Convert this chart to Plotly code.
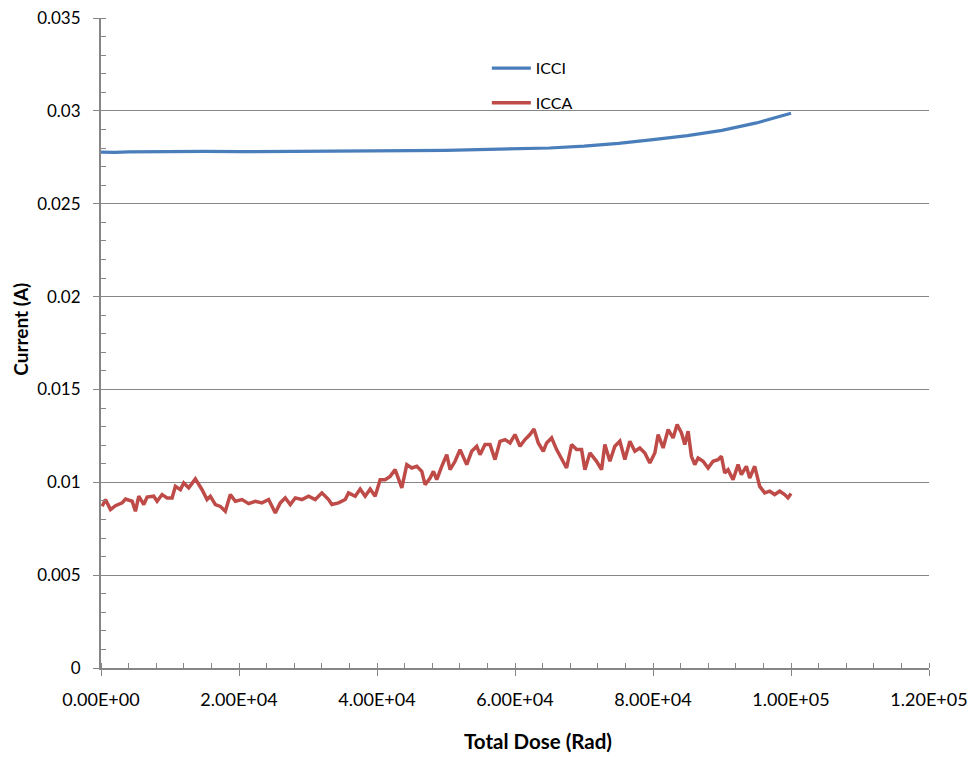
import plotly.graph_objects as go

# ---------------- data ----------------
icci_dose = [0, 2000, 4000, 6000, 10000, 15000, 20000, 25000, 30000, 35000, 40000,
             45000, 50000, 55000, 60000, 65000, 70000, 75000, 80000, 85000, 90000,
             95000, 100000]
icci_current = [0.02778, 0.02776, 0.02779, 0.02780, 0.02781, 0.02782, 0.02780, 0.02782,
                0.02783, 0.02783, 0.02785, 0.02786, 0.02787, 0.02790, 0.02794, 0.02800,
                0.02810, 0.02825, 0.02845, 0.02867, 0.02895, 0.02935, 0.02987]

icca_dose = [169, 651, 1375, 2099, 3064, 3546, 4511, 4994, 5476, 6200, 6683, 7647, 8130,
             8854, 9578, 10301, 10784, 11508, 11990, 12714, 13679, 14644, 15368, 15850,
             16574, 17298, 18021, 18745, 19469, 20434, 21399, 22364, 23329, 24294, 25259,
             25983, 26706, 27430, 28154, 29119, 30084, 31049, 32014, 32979, 33462, 34427,
             35391, 35874, 36839, 37563, 38286, 39010, 39734, 40458,
             41181, 41905, 42629, 43111, 43594, 44318, 45042, 45766, 46489, 46971, 47695,
             48177, 48660, 49384, 50108, 50590, 51314, 52038, 52520, 53003, 53727, 54450,
             54933, 55656, 56380, 57104, 57828, 58551, 59275, 59999, 60723, 61446, 62170,
             62749, 63376, 64100, 64583, 65306, 66030, 66754, 67478, 68201, 68925, 69649,
             70131, 70855, 71820, 72544, 73026, 73750, 74474, 75198, 75921, 76645, 77369,
             78093, 78816, 79540, 80264, 80746, 81470, 82194, 82917, 83496, 84124, 84606,
             85089, 85571, 86054, 86536, 87260, 87984, 88707, 89431, 89914, 90396, 90879,
             91602, 92326, 92809, 93533, 94015, 94739, 95463, 96186, 96910, 97634, 98358,
             99081, 99564, 100000]
icca_current = [0.00871, 0.00907, 0.00853, 0.00874, 0.00889, 0.00910, 0.00898, 0.00844,
                0.00925, 0.00880, 0.00920, 0.00925, 0.00898, 0.00934, 0.00916, 0.00916,
                0.00978, 0.00960, 0.00996, 0.00970, 0.01018, 0.00960, 0.00907, 0.00925,
                0.00880, 0.00870, 0.00844, 0.00934, 0.00898, 0.00907, 0.00885, 0.00898,
                0.00889, 0.00907, 0.00835, 0.00889, 0.00916, 0.00880, 0.00916, 0.00907,
                0.00925, 0.00907, 0.00943, 0.00907, 0.00880, 0.00889, 0.00907, 0.00943,
                0.00925, 0.00964, 0.00925, 0.00964, 0.00925, 0.01014,
                0.01014, 0.01032, 0.01068, 0.01023, 0.00970, 0.01095, 0.01077, 0.01086,
                0.01059, 0.00987, 0.01023, 0.01059, 0.01014, 0.01086, 0.01149, 0.01068,
                0.01113, 0.01176, 0.01131, 0.01095, 0.01167, 0.01194, 0.01149, 0.01203,
                0.01203, 0.01122, 0.01221, 0.01230, 0.01212, 0.01257, 0.01194, 0.01230,
                0.01257, 0.01287, 0.01212, 0.01167, 0.01212, 0.01239, 0.01176, 0.01131,
                0.01077, 0.01203, 0.01176, 0.01176, 0.01068, 0.01158, 0.01113, 0.01068,
                0.01203, 0.01113, 0.01194, 0.01221, 0.01122, 0.01221, 0.01167,
                0.01185, 0.01158, 0.01104, 0.01158, 0.01257, 0.01185, 0.01284, 0.01239,
                0.01311, 0.01266, 0.01203, 0.01275, 0.01140, 0.01095, 0.01131, 0.01113,
                0.01077, 0.01113, 0.01122, 0.01140, 0.01050, 0.01068, 0.01014, 0.01095,
                0.01041, 0.01086, 0.01023, 0.01086, 0.00978, 0.00943, 0.00952, 0.00934,
                0.00952, 0.00934, 0.00916, 0.00939]

x_tickvals = [0, 20000, 40000, 60000, 80000, 100000, 120000]
x_ticktext = ["0.00E+00", "2.00E+04", "4.00E+04", "6.00E+04", "8.00E+04", "1.00E+05", "1.20E+05"]
y_tickvals = [0, 0.005, 0.01, 0.015, 0.02, 0.025, 0.03, 0.035]
y_ticktext = ["0", "0.005", "0.01", "0.015", "0.02", "0.025", "0.03", "0.035"]

x_title = "Total Dose (Rad)"
y_title = "Current (A)"

# ---------------- figure ----------------
FONT = "Lato"
AX = "#868686"

fig = go.Figure()
fig.add_trace(go.Scatter(x=icci_dose, y=icci_current, mode="lines", name="ICCI",
                         line=dict(color="#4A7EBB", width=3.2), legend="legend",
                         showlegend=True))
fig.add_trace(go.Scatter(x=icca_dose, y=icca_current, mode="lines", name="ICCA",
                         line=dict(color="#BE4B48", width=3.5), legend="legend2",
                         showlegend=True))

leg_common = dict(xref="paper", yref="paper", xanchor="left", yanchor="middle",
                  bgcolor="rgba(0,0,0,0)", borderwidth=0, itemwidth=39,
                  font=dict(family=FONT, size=16, color="black"))
fig.update_layout(
    width=973, height=757,
    margin=dict(l=101, r=44, t=18, b=89, autoexpand=False),
    paper_bgcolor="white", plot_bgcolor="white",
    showlegend=True,
    font=dict(family=FONT, size=15, color="black"),
    legend=dict(x=0.466, y=0.9226, **leg_common),
    legend2=dict(x=0.466, y=0.8696, **leg_common),
    xaxis=dict(range=[0, 120000], tickvals=x_tickvals, ticktext=x_ticktext,
               automargin=False,
               showgrid=False, zeroline=False, showline=True, linecolor=AX, linewidth=2,
               ticks="outside", ticklen=6, tickcolor=AX, tickwidth=1,
               ticklabelstandoff=8,
               minor=dict(dtick=4000, ticks="inside", ticklen=5, tickcolor=AX, showgrid=False),
               tickfont=dict(family=FONT, size=18, color="black")),
    yaxis=dict(range=[0, 0.035], tickvals=y_tickvals, ticktext=y_ticktext,
               automargin=False,
               showgrid=True, gridcolor=AX, gridwidth=1, zeroline=False,
               showline=True, linecolor=AX, linewidth=2,
               ticks="outside", ticklen=6, tickcolor=AX, tickwidth=1,
               ticklabelstandoff=9,
               minor=dict(dtick=0.001, ticks="inside", ticklen=5, tickcolor=AX, showgrid=False),
               tickfont=dict(family=FONT, size=17, color="black")),
    annotations=[
        dict(text="<b>" + x_title + "</b>", xref="paper", yref="paper",
             x=0.5275, y=-0.113, xanchor="center", yanchor="middle", showarrow=False,
             font=dict(family=FONT, size=20.5, color="black")),
        dict(text="<b>" + y_title + "</b>", xref="paper", yref="paper",
             x=-0.0966, y=0.5204, xanchor="center", yanchor="middle", showarrow=False,
             textangle=-90, font=dict(family=FONT, size=19, color="black")),
    ],
)

fig.write_html("out.html")
